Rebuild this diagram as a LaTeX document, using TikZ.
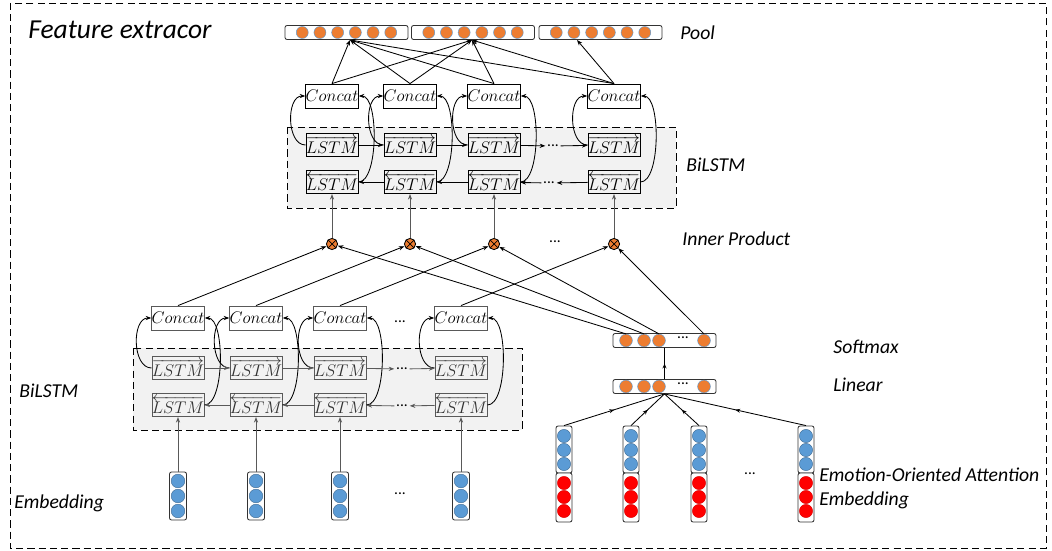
\documentclass[tikz,border=0pt]{standalone}
\usepackage{fontspec}
\newfontfamily\labelfont{Carlito}
\usepackage{amsmath}
\usetikzlibrary{arrows.meta, positioning, calc, decorations.markings}
\definecolor{DotOrange}{HTML}{ED7D31}
\definecolor{DotBlue}{HTML}{5B9BD5}
\definecolor{DotRed}{HTML}{FF0000}
\definecolor{PanelGray}{HTML}{F2F2F2}
\definecolor{LineGray}{HTML}{595959}

\begin{document}
\begin{tikzpicture}[x=0.025cm, y=-0.025cm, >={Stealth[length=4pt,width=3pt]}, line width=0.6pt,
    lbl/.style={font=\labelfont\itshape\fontsize{14}{16}\selectfont, anchor=west, inner sep=0pt},
    ldots/.style={font=\labelfont\fontsize{11}{12}\selectfont, inner sep=1pt},
    concatbox/.style={draw, fill=white, minimum width=1.25cm, minimum height=0.6cm, inner sep=0pt, font=\fontsize{12}{13}\selectfont},
    lstmbox/.style={draw, fill=PanelGray, minimum width=1.25cm, minimum height=0.58cm, inner sep=0pt, font=\fontsize{12.5}{13}\selectfont},
    lowbox/.style={lstmbox, draw=LineGray, text=black!80},
    bar/.style={draw=black!80, fill=white, rounded corners=1.5pt, inner sep=0pt},
    odot/.style={circle, fill=DotOrange, draw=DotBlue, line width=0.3pt, inner sep=0pt, minimum size=0.3cm},
    bdot/.style={circle, fill=DotBlue, draw=DotBlue!70!black, line width=0.3pt, inner sep=0pt, minimum size=0.34cm},
    rdot/.style={circle, fill=DotRed, draw=DotRed!85!black, line width=0.3pt, inner sep=0pt, minimum size=0.33cm},
    ipnode/.style={circle, draw, fill=DotOrange, inner sep=0pt, minimum size=0.28cm,
        path picture={\draw[line width=0.5pt] (path picture bounding box.north west) -- (path picture bounding box.south east)
            (path picture bounding box.north east) -- (path picture bounding box.south west);}},
    grayarrow/.style={->, draw=LineGray},
    midarrow/.style={postaction={decorate, decoration={markings, mark=at position 0.5 with {\arrow{Stealth[length=3.5pt,width=2.8pt]}}}}}]

    % frame and panels
    \useasboundingbox (0,0) rectangle (1052,551);
    \draw[dash pattern=on 5pt off 3pt, line width=0.5pt] (10,3) rectangle (1046,548);
    \draw[dash pattern=on 5pt off 3pt, fill=PanelGray] (287,127) rectangle (676,208);
    \draw[dash pattern=on 5pt off 3pt, fill=PanelGray] (133,348) rectangle (522,430);

    % labels
    \node[lbl, font=\labelfont\itshape\fontsize{19.5}{22}\selectfont] (title) at (28,30) {Feature extracor};
    \node[lbl] (poollbl) at (680,33) {Pool};
    \node[lbl] (upbilbl) at (686,165) {BiLSTM};
    \node[lbl] (iplbl) at (682,239) {Inner Product};
    \node[lbl] (softlbl) at (833,347) {Softmax};
    \node[lbl] (linlbl) at (833,385) {Linear};
    \node[lbl] (attlbl) at (819,475) {Emotion-Oriented Attention};
    \node[lbl] (attemblbl) at (819,500) {Embedding};
    \node[lbl] (lowbilbl) at (19,391) {BiLSTM};
    \node[lbl] (emblbl) at (14,503) {Embedding};

    % pool
    \foreach \j/\x in {1/346.5, 2/473, 3/600.5} {
        \node[bar, minimum width=3.075cm, minimum height=0.35cm] (pool\j) at (\x,32.5) {};
        \foreach \k in {1,...,6}
            \node[odot] (p\j-\k) at ({\x+(\k-3.5)*17.7},32.5) {};
    }
    \coordinate (t1) at (350,40);
    \coordinate (t2) at (472,40);
    \coordinate (t3) at (577,40);

    % upper BiLSTM
    \foreach \i/\x in {1/332, 2/410, 3/494, 4/614} {
        \node[concatbox] (uc\i) at (\x,96) {$Concat$};
        \node[lstmbox] (uf\i) at (\x,145) {$\overrightarrow{LSTM}$};
        \node[lstmbox] (ub\i) at (\x,182) {$\overleftarrow{LSTM}$};
        \node[ipnode] (ip\i) at (\x,244) {};
    }
    \node[ldots] (ufd) at (553,146) {...};
    \node[ldots] (ubd) at (549,183) {...};
    \node[ldots] (ipd) at (555,242) {...};

    \foreach \i in {1,...,4} {
        \draw[->] (uf\i.west) to[out=180, in=180] (uc\i.west);
        \draw[->] (ub\i.east) to[out=0, in=0, looseness=0.6] (uc\i.east);
        \draw[->] (uc\i.north) -- (t1);
        \draw[->] (uc\i.north) -- (t2);
        \draw[grayarrow] (ip\i) -- (ub\i);
    }
    \draw[->] (uc4.north) -- (t3);
    \draw[->] (uf1) -- (uf2);
    \draw[->] (uf2) -- (uf3);
    \draw[->] (uf3) -- (ufd);
    \draw[->] (ufd) -- (uf4);
    \draw[->] (ub2) -- (ub1);
    \draw[->] (ub3) -- (ub2);
    \draw[->] (ubd) -- (ub3);
    \draw[->] (ub4) -- (ubd);

    % lower BiLSTM
    \foreach \i/\x in {1/178, 2/256, 3/340, 4/461} {
        \node[concatbox, draw=LineGray] (lc\i) at (\x,318) {$Concat$};
        \node[lowbox] (lf\i) at (\x,368) {$\overrightarrow{LSTM}$};
        \node[lowbox] (lb\i) at (\x,405) {$\overleftarrow{LSTM}$};
        \node[bar, minimum width=0.425cm, minimum height=1.2cm] (e\i) at (\x,496) {};
        \foreach \y in {481,496,511}
            \node[bdot] at (\x,\y) {};
    }
    \node[ldots] (lfd) at (402,369) {...};
    \node[ldots] (lbd) at (402,406) {...};
    \node[ldots] (lcd) at (400,322) {...};
    \node[ldots] (ed) at (400,494) {...};

    \foreach \i in {1,...,4} {
        \draw[->] (lf\i.west) to[out=180, in=180] (lc\i.west);
        \draw[->] (lb\i.east) to[out=0, in=0, looseness=0.6] (lc\i.east);
        \draw[->] (lc\i.north) -- (ip\i);
        \draw[grayarrow] (e\i) -- (lb\i);
    }
    \draw[->, LineGray] (lf1) -- (lf2);
    \draw[->, LineGray] (lf2) -- (lf3);
    \draw[->, LineGray] (lf3) -- (lfd);
    \draw[->, LineGray] (lfd) -- (lf4);
    \draw[->, LineGray] (lb2) -- (lb1);
    \draw[->, LineGray] (lb3) -- (lb2);
    \draw[->, LineGray] (lbd) -- (lb3);
    \draw[->, LineGray] (lb4) -- (lbd);

    % softmax and linear
    \node[bar, minimum width=2.575cm, minimum height=0.35cm] (soft) at (664.5,340.5) {};
    \node[bar, minimum width=2.575cm, minimum height=0.35cm] (lin) at (664.5,386.5) {};
    \foreach \k/\x in {1/626, 2/644, 3/659, 4/704} {
        \node[odot, minimum size=0.32cm] (s\k) at (\x,340.5) {};
        \node[odot, minimum size=0.32cm] (l\k) at (\x,386.5) {};
    }
    \node[ldots] (sd) at (683,338) {...};
    \node[ldots] (ld) at (683,384) {...};
    \foreach \k in {1,...,4}
        \draw[->] (s\k.north) -- (ip\k);
    \draw[midarrow] (lin.north) -- (soft.south);

    % emotion-oriented attention vectors
    \foreach \i/\x in {1/564, 2/631, 3/699, 4/806} {
        \node[bar, minimum width=0.4cm, minimum height=1.175cm] (ab\i) at (\x,449.5) {};
        \node[bar, minimum width=0.4cm, minimum height=1.225cm] (ar\i) at (\x,497.5) {};
        \foreach \y in {436,450,464}
            \node[bdot, minimum size=0.33cm] at (\x,\y) {};
        \foreach \y in {483,497,511}
            \node[rdot] at (\x,\y) {};
        \draw[midarrow] (ab\i.north) -- (lin.south);
    }
    \node[ldots] (ad) at (750,474) {...};
\end{tikzpicture}
\end{document}
